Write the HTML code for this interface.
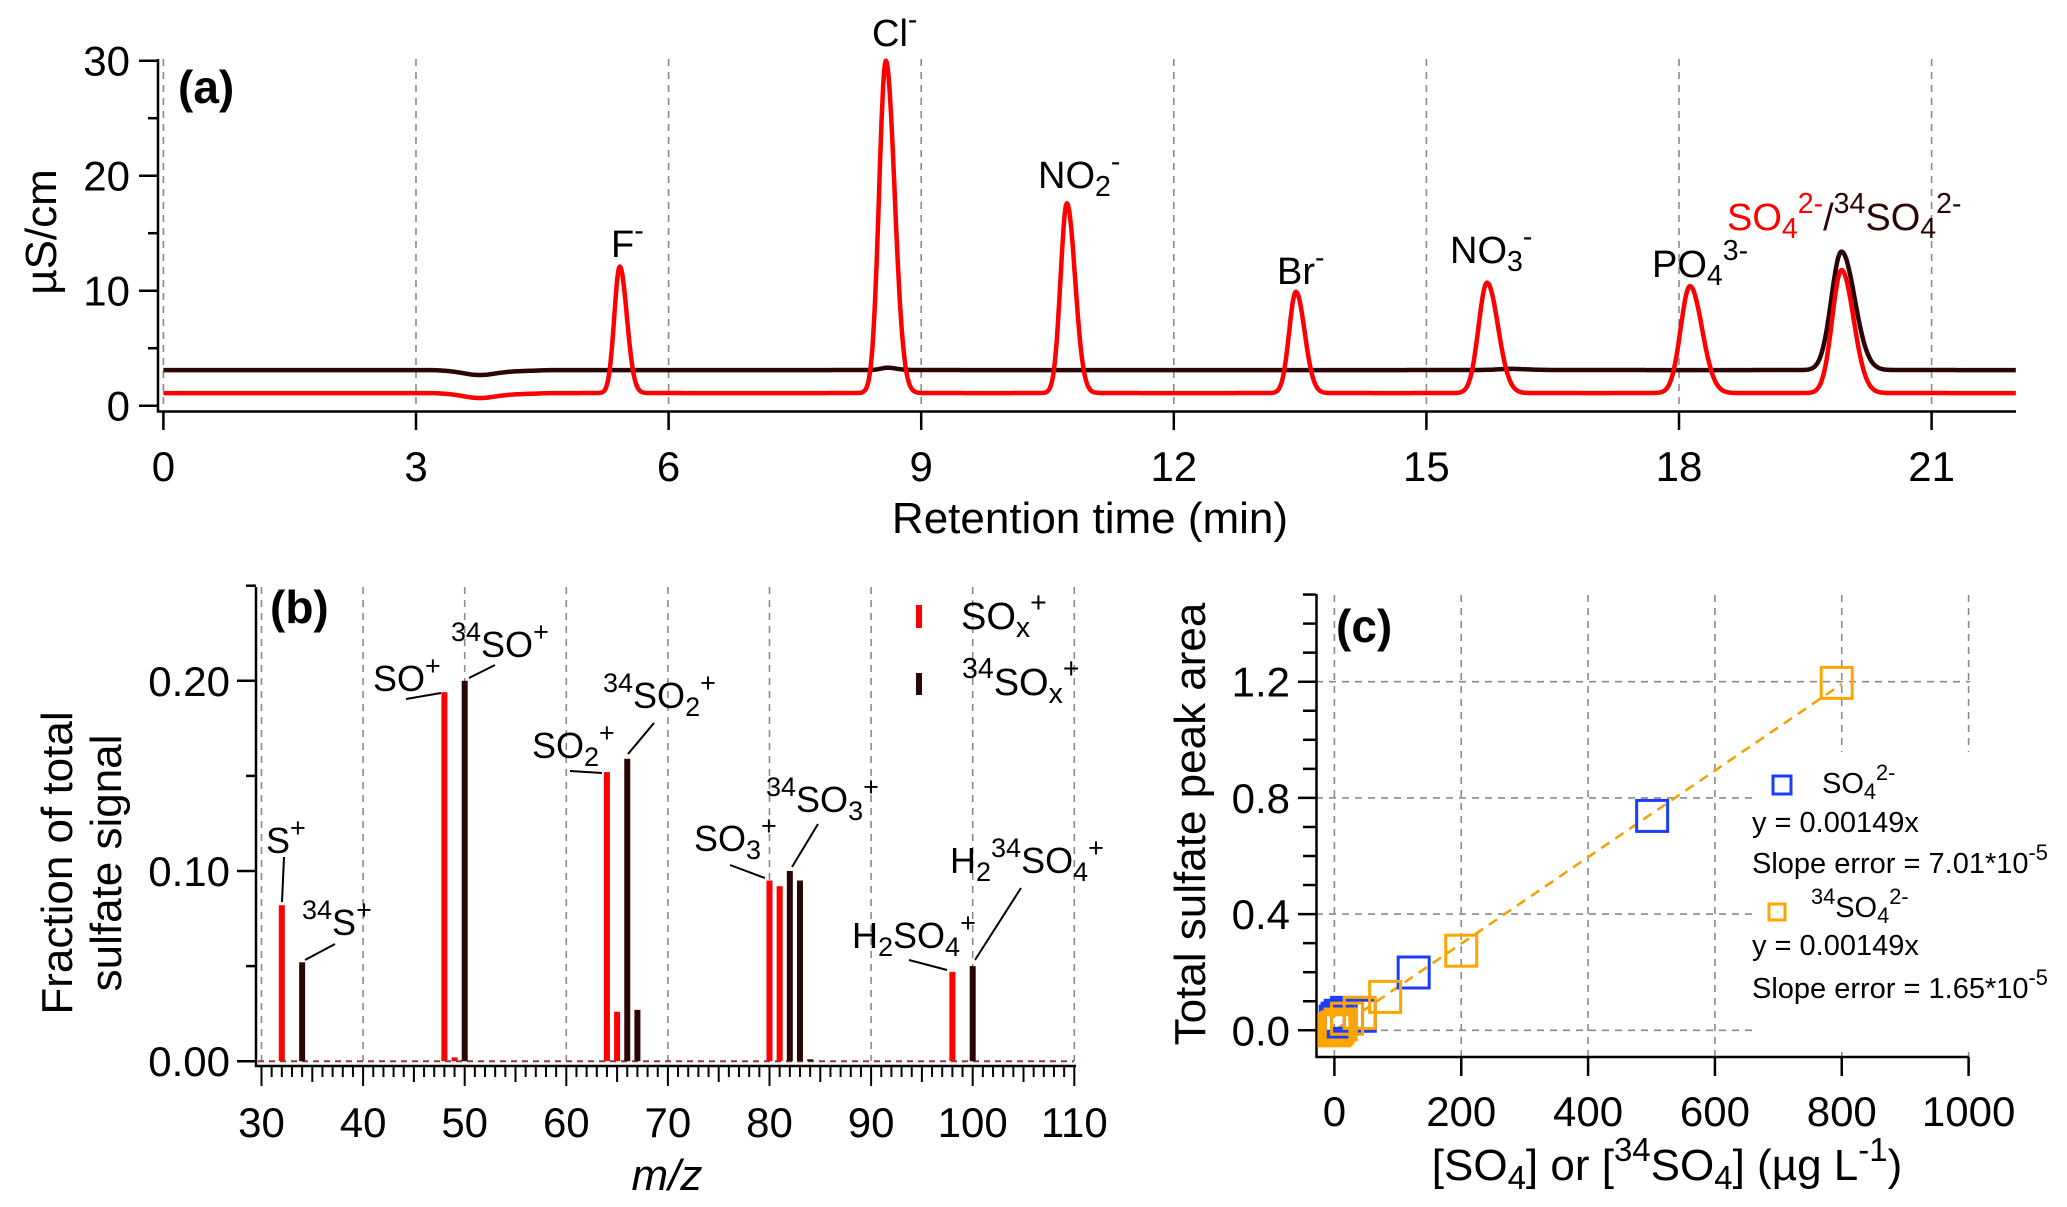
<!DOCTYPE html>
<html><head><meta charset="utf-8">
<style>
html,body{margin:0;padding:0;background:#fff;}
svg{display:block;font-family:"Liberation Sans",Arial,sans-serif;}
</style></head>
<body>
<svg id="fig" width="2067" height="1207" viewBox="0 0 2067 1207" xmlns="http://www.w3.org/2000/svg">
<rect width="2067" height="1207" fill="#fff"/>
<g id="pa"></g>
<g id="pb"></g>
<g id="pc"></g>
</svg>
<script>
// ---------- Panel (a) data ----------
const aXTicks = [0,3,6,9,12,15,18,21];
const aYTicks = [0,10,20,30];
const aPeakNames = ["F","Cl","NO2","Br","NO3","PO4","SO4"];
const aPeakRT = [5.42,8.58,10.73,13.45,15.72,18.13,19.93];
const aPeakHeightRed = [11.0,28.9,16.5,8.8,9.6,9.3,10.7];
const aPeakSigma = [0.065,0.08,0.075,0.08,0.1,0.11,0.11];
const aBaselineRed = 1.1;
const aBaselineBlack = 3.1;
const aBlackPeakRT = [8.6,16.0,19.93];
const aBlackPeakHeight = [0.2,0.1,10.3];
const aBlackPeakSigma = [0.08,0.15,0.12];
const aDipRT = 3.75, aDipDepth = 0.32;

// ---------- Panel (b) data ----------
const bXTicks = [30,40,50,60,70,80,90,100,110];
const bYTickLabels = ["0.00","0.10","0.20"];
const bYTicks = [0,0.1,0.2];
const bRedMz = [32,48,49,64,65,80,81,98];
const bRedVal = [0.082,0.194,0.002,0.152,0.026,0.095,0.092,0.047];
const bBlackMz = [34,50,66,67,82,83,84,100];
const bBlackVal = [0.052,0.200,0.159,0.027,0.100,0.095,0.001,0.050];

// ---------- Panel (c) data ----------
const cXTicks = [0,200,400,600,800,1000];
const cYTicks = [0,0.4,0.8,1.2];
const cYTickLabels = ["0.0","0.4","0.8","1.2"];
const cBlueX = [2,5,10,20,40,125,501];
const cBlueY = [0.03,0.04,0.05,0.06,0.05,0.199,0.738];
const cOrangeX = [0,2,5,10,20,40,80,200,792];
const cOrangeY = [0.0,0.005,0.01,0.02,0.04,0.06,0.115,0.274,1.196];
const cSlope = 0.00149;

const NS = "http://www.w3.org/2000/svg";
function mk(parent, tag, attrs){
  const e = document.createElementNS(NS, tag);
  for (const k in attrs) e.setAttribute(k, attrs[k]);
  parent.appendChild(e);
  return e;
}
function rich(s){
  return s.replace(/_\{([^}]*)\}/g,'<tspan baseline-shift="-28%" font-size="75%">$1</tspan>')
          .replace(/\^\{([^}]*)\}/g,'<tspan baseline-shift="58%" font-size="75%">$1</tspan>');
}
function txt(parent, x, y, s, size, anchor, extra){
  const t = mk(parent, "text", Object.assign({x:x, y:y, "font-size":size, "text-anchor":anchor||"start", fill:"#000"}, extra||{}));
  t.innerHTML = rich(s);
  return t;
}
const RED = "#ff0000", DARK = "#2b0505", GRID = "#8a8a8a";
const TICK = 42, TITLE = 44;

// ================= PANEL A =================
(function(){
  const g = document.getElementById("pa");
  const X0 = 163.4, PX = 84.2, Y0 = 405.7, PY = 11.5;
  const xs = t => X0 + t*PX;
  const ys = v => Y0 - v*PY;
  aXTicks.forEach(t=>{
    const l = mk(g,"line",{x1:xs(t),x2:xs(t),y1:59,y2:410,stroke:GRID,"stroke-width":1.6,"stroke-dasharray":"7,6"});
    
    
  });
  const ax = mk(g,"path",{d:"M158,59 V411.5 H2016",fill:"none",stroke:"#000","stroke-width":2.5});
  
  
  aYTicks.forEach(v=>{
    mk(g,"line",{x1:139,x2:158,y1:ys(v),y2:ys(v),stroke:"#000","stroke-width":2.5});
    const t = txt(g,130,ys(v)+15,String(v),TICK,"end");
    
    
  });
  [5,15,25].forEach(v=>mk(g,"line",{x1:148,x2:158,y1:ys(v),y2:ys(v),stroke:"#000","stroke-width":2.5}));
  aXTicks.forEach(t=>{
    mk(g,"line",{x1:xs(t),x2:xs(t),y1:411,y2:430,stroke:"#000","stroke-width":2.5});
    const tl = txt(g,xs(t),481,String(t),TICK,"middle");
    
    
  });
  function peak(t, rt, h, s){
    const sd = t < rt ? s : s*1.3;
    return h*Math.exp(-0.5*Math.pow((t-rt)/sd,2));
  }
  function dip(t){ return -aDipDepth*Math.exp(-0.5*Math.pow((t-aDipRT)/0.18,2)) - (t>3.2&&t<4.6? 0.12*Math.sin((t-3.2)/1.4*Math.PI):0); }
  let dR="", dB="";
  for(let i=0;i<=2200;i++){
    const t = i/100;
    let vr = aBaselineRed + dip(t), vb = aBaselineBlack + dip(t);
    for(let k=0;k<aPeakRT.length;k++) vr += peak(t,aPeakRT[k],aPeakHeightRed[k],aPeakSigma[k]);
    for(let k=0;k<aBlackPeakRT.length;k++) vb += peak(t,aBlackPeakRT[k],aBlackPeakHeight[k],aBlackPeakSigma[k]);
    dR += (i?"L":"M")+xs(t).toFixed(1)+","+ys(vr).toFixed(1);
    dB += (i?"L":"M")+xs(t).toFixed(1)+","+ys(vb).toFixed(1);
  }
  const pb = mk(g,"path",{d:dB,fill:"none",stroke:DARK,"stroke-width":4.5,"stroke-linejoin":"round"});
  
  
  const pr = mk(g,"path",{d:dR,fill:"none",stroke:RED,"stroke-width":4.5,"stroke-linejoin":"round"});
  
  
  const labs = [["F^{-}",611,257],["Cl^{-}",872,46],["NO_{2}^{-}",1038,188],["Br^{-}",1277,284],["NO_{3}^{-}",1450,263],["PO_{4}^{3-}",1652,277]];
  labs.forEach(L=>{
    const t = txt(g,L[1],L[2],L[0],38,"start");
    
    
  });
  const s = mk(g,"text",{x:1727,y:230,"font-size":38,fill:RED});
  s.innerHTML = 'SO<tspan baseline-shift="-28%" font-size="75%">4</tspan><tspan baseline-shift="58%" font-size="75%">2-</tspan><tspan fill="'+DARK+'">/</tspan><tspan fill="'+DARK+'" baseline-shift="58%" font-size="75%">34</tspan><tspan fill="'+DARK+'">SO</tspan><tspan fill="'+DARK+'" baseline-shift="-28%" font-size="75%">4</tspan><tspan fill="'+DARK+'" baseline-shift="58%" font-size="75%">2-</tspan>';
  
  
  const pl = txt(g,178,103,"(a)",46,"start",{"font-weight":"bold"});
  
  
  const xt = txt(g,1090,533,"Retention time (min)",TITLE,"middle");
  
  
  const yt = txt(g,0,0,"µS/cm",44,"middle",{transform:"translate(56,232) rotate(-90)"});
  
  
})();

// ================= PANEL B =================
(function(){
  const g = document.getElementById("pb");
  const X0 = 261.5, PX = 10.16, Y0 = 1061.2, PY = 1902;
  const xs = m => X0 + (m-30)*PX;
  const ys = v => Y0 - v*PY;
  bXTicks.forEach(m=>{
    const l = mk(g,"line",{x1:xs(m),x2:xs(m),y1:587,y2:1061,stroke:GRID,"stroke-width":1.6,"stroke-dasharray":"7,6"});
    
    
  });
  const zl = mk(g,"line",{x1:258,x2:1074,y1:Y0,y2:Y0,stroke:"#8b3a3a","stroke-width":2,"stroke-dasharray":"6,5"});
  
  
  const ax = mk(g,"path",{d:"M256,587 V1066 H1076",fill:"none",stroke:"#000","stroke-width":2.5});
  
  
  bYTicks.forEach((v,i)=>{
    mk(g,"line",{x1:237,x2:256,y1:ys(v),y2:ys(v),stroke:"#000","stroke-width":2.5});
    const t = txt(g,230,ys(v)+15,bYTickLabels[i],TICK,"end");
    
    
  });
  [0.05,0.15,0.25].forEach(v=>mk(g,"line",{x1:246,x2:256,y1:ys(v),y2:ys(v),stroke:"#000","stroke-width":2.5}));
  for(let m=30;m<=110;m++){
    const len = m%10===0?20:(m%5===0?16:11);
    mk(g,"line",{x1:xs(m),x2:xs(m),y1:1066,y2:1066+len,stroke:"#000","stroke-width":2});
  }
  bXTicks.forEach(m=>{
    const t = txt(g,xs(m),1137,String(m),TICK,"middle");
    
    
  });
  bRedMz.forEach((m,i)=>{
    const r = mk(g,"rect",{x:xs(m)-3,y:ys(bRedVal[i]),width:6,height:Y0-ys(bRedVal[i]),fill:RED});
    
    
  });
  bBlackMz.forEach((m,i)=>{
    const r = mk(g,"rect",{x:xs(m)-3,y:ys(bBlackVal[i]),width:6,height:Y0-ys(bBlackVal[i]),fill:DARK});
    
    
  });
  const L = [
    ["S^{+}",266,853,[284,857,282,902]],
    ["^{34}S^{+}",302,935,[335,944,305,960]],
    ["SO^{+}",373,691,[406,699,441,693]],
    ["^{34}SO^{+}",451,657,[469,678,495,665]],
    ["SO_{2}^{+}",532,758,[570,771,602,773]],
    ["^{34}SO_{2}^{+}",603,708,[654,723,628,754]],
    ["SO_{3}^{+}",694,851,[730,865,765,878]],
    ["^{34}SO_{3}^{+}",766,812,[818,824,792,867]],
    ["H_{2}SO_{4}^{+}",852,948,[909,960,947,970]],
    ["H_{2}^{34}SO_{4}^{+}",950,873,[1021,888,975,960]]
  ];
  L.forEach(a=>{
    const t = txt(g,a[1],a[2],a[0],36,"start");
    
    
    const q = a[3];
    mk(g,"line",{x1:q[0],y1:q[1],x2:q[2],y2:q[3],stroke:"#000","stroke-width":2});
  });
  const lr = mk(g,"rect",{x:916,y:605,width:6,height:23,fill:RED});
  
  
  const lt1 = txt(g,961,629,"SO_{x}^{+}",38,"start");
  
  
  const lb = mk(g,"rect",{x:916,y:673,width:6,height:22,fill:DARK});
  
  
  const lt2 = txt(g,962,695,"^{34}SO_{x}^{+}",38,"start");
  
  
  const pl = txt(g,270,623,"(b)",46,"start",{"font-weight":"bold"});
  
  
  const xt = txt(g,667,1190,"m/z",TITLE,"middle",{"font-style":"italic"});
  
  
  const y1 = txt(g,0,0,"Fraction of total",44,"middle",{transform:"translate(72,863) rotate(-90)"});
  
  
  const y2 = txt(g,0,0,"sulfate signal",44,"middle",{transform:"translate(121,863) rotate(-90)"});
  
  
})();

// ================= PANEL C =================
(function(){
  const g = document.getElementById("pc");
  const X0 = 1334.4, PX = 0.6342, Y0 = 1030.3, PY = 290.5;
  const xs = v => X0 + v*PX;
  const ys = v => Y0 - v*PY;
  cXTicks.forEach(v=>{
    const l = mk(g,"line",{x1:xs(v),x2:xs(v),y1:595,y2:1057,stroke:GRID,"stroke-width":1.6,"stroke-dasharray":"7,6"});
    
    
  });
  cYTicks.forEach(v=>{
    const l = mk(g,"line",{x1:1316,x2:1970,y1:ys(v),y2:ys(v),stroke:GRID,"stroke-width":1.6,"stroke-dasharray":"7,6"});
    
    
  });
  const lbg = mk(g,"rect",{x:1752,y:752,width:240,height:300,fill:"#fff"});
  
  
  const ax = mk(g,"path",{d:"M1316.5,594 V1057 H1969",fill:"none",stroke:"#000","stroke-width":2.5});
  
  
  cYTicks.forEach((v,i)=>{
    mk(g,"line",{x1:1298,x2:1316,y1:ys(v),y2:ys(v),stroke:"#000","stroke-width":2.5});
    const t = txt(g,1290,ys(v)+15,cYTickLabels[i],TICK,"end");
    
    
  });
  for(let k=1;k<=15;k++){ if(k%4) mk(g,"line",{x1:1303,x2:1316,y1:ys(k/10),y2:ys(k/10),stroke:"#000","stroke-width":2.5}); }
  cXTicks.forEach(v=>{
    mk(g,"line",{x1:xs(v),x2:xs(v),y1:1057,y2:1076,stroke:"#000","stroke-width":2.5});
    const t = txt(g,xs(v),1126,String(v),TICK,"middle");
    
    
  });
  const fl = mk(g,"line",{x1:xs(0),y1:ys(0),x2:xs(800),y2:ys(cSlope*800),stroke:"#f5a000","stroke-width":2.5,"stroke-dasharray":"10,7"});
  
  
  const S = 31;
  cBlueX.forEach((v,i)=>{
    const r = mk(g,"rect",{x:xs(v)-S/2,y:ys(cBlueY[i])-S/2,width:S,height:S,fill:"none",stroke:"#1a3cff","stroke-width":3});
    
    
  });
  cOrangeX.forEach((v,i)=>{
    const r = mk(g,"rect",{x:xs(v)-S/2,y:ys(cOrangeY[i])-S/2,width:S,height:S,fill:"none",stroke:"#ffa500","stroke-width":3});
    
    
  });
  const m1 = mk(g,"rect",{x:1773,y:776,width:18,height:18,fill:"none",stroke:"#1a3cff","stroke-width":3});
  
  
  const t1 = txt(g,1822,793,"SO_{4}^{2-}",29,"start");
  
  
  const t2 = txt(g,1752,832,"y = 0.00149x",29,"start");
  
  
  const t3 = txt(g,1752,873,"Slope error = 7.01*10^{-5}",29,"start");
  
  
  const m2 = mk(g,"rect",{x:1769,y:904,width:16,height:16,fill:"none",stroke:"#ffa500","stroke-width":3});
  
  
  const t4 = txt(g,1811,917,"^{34}SO_{4}^{2-}",29,"start");
  
  
  const t5 = txt(g,1752,955,"y = 0.00149x",29,"start");
  
  
  const t6 = txt(g,1752,998,"Slope error = 1.65*10^{-5}",29,"start");
  
  
  const pl = txt(g,1336,642,"(c)",46,"start",{"font-weight":"bold"});
  
  
  const xt = txt(g,1667,1180,"[SO_{4}] or [^{34}SO_{4}] (µg L^{-1})",TITLE,"middle");
  
  
  const yt = txt(g,0,0,"Total sulfate peak area",44,"middle",{transform:"translate(1205,824) rotate(-90)"});
  
  
})();
</script>
</body></html>
